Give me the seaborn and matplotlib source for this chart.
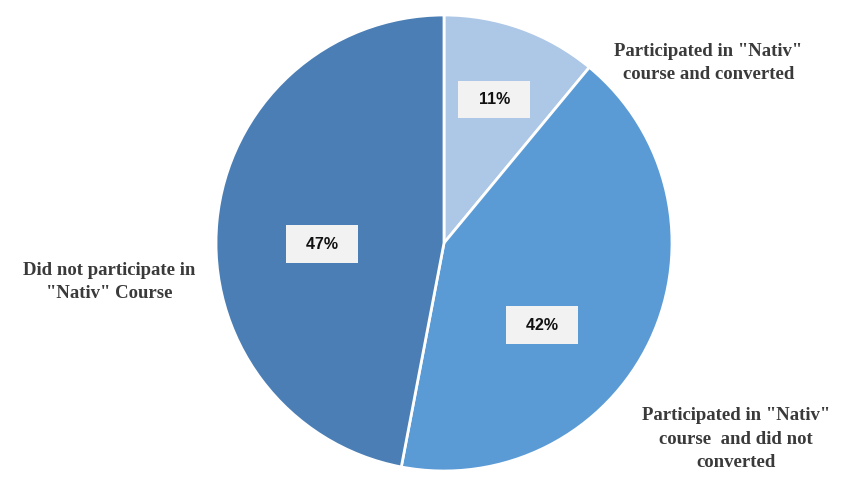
import matplotlib
matplotlib.use("Agg")
import matplotlib.pyplot as plt
import seaborn as sns

# data
labels = ['Participated in "Nativ"\ncourse and converted',
          'Participated in "Nativ"\ncourse  and did not\nconverted',
          'Did not participate in\n"Nativ" Course']
shares = [11, 42, 47]
colors = ['#adc7e6', '#5b9bd5', '#4a7eb5']

# where the text goes (data coords, pie radius = 1)
pct_pos = [(0.22, 0.63), (0.43, -0.36), (-0.535, -0.005)]
label_pos = [(1.16, 0.79), (1.28, -0.86), (-1.47, -0.17)]

sns.set_style("white")

fig = plt.figure(figsize=(8.47, 4.88), dpi=100)
ax = fig.add_axes([216 / 847, 17 / 488, 456 / 847, 456 / 488])

wedges, _ = ax.pie(shares, colors=colors, startangle=90, counterclock=False,
                   wedgeprops=dict(edgecolor='white', linewidth=2))
ax.set_xlim(-1, 1)
ax.set_ylim(-1, 1)
ax.axis('off')

for v, (x, y) in zip(shares, pct_pos):
    ax.text(x, y, f'  {v}%  ', ha='center', va='center', fontsize=11.5,
            fontweight='bold', family='Liberation Sans', color='#111111',
            bbox=dict(boxstyle='square,pad=0.7', facecolor='#f2f2f2', edgecolor='none'))

for lab, (x, y) in zip(labels, label_pos):
    ax.text(x, y, lab, ha='center', va='center', fontsize=13.5,
            fontweight='bold', family='Liberation Serif', color='#3a3a3a',
            linespacing=1.5)

fig.savefig('out.png', dpi=100)
